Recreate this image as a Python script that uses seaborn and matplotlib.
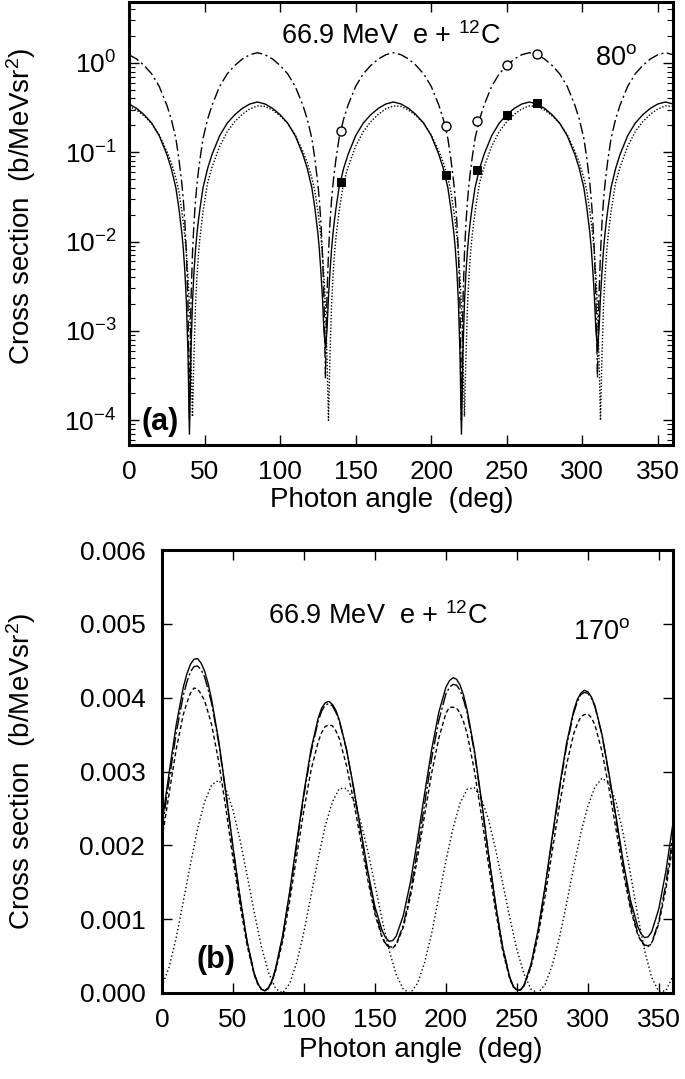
import numpy as np
import pandas as pd
import matplotlib
matplotlib.use("Agg")
import matplotlib.pyplot as plt
import seaborn as sns
from matplotlib.ticker import FixedLocator, FixedFormatter, NullLocator, NullFormatter, LogLocator

# ---------------- panel (a) data ----------------
angle_a = [0, 5, 10, 15, 20, 25, 28, 31, 33, 35, 36, 37, 38, 39, 40, 41, 42, 43, 44, 45, 46, 47, 49, 52, 55, 60, 65, 70, 75, 80, 85,
           90, 95, 100, 105, 110, 115, 118, 121, 123, 125, 126, 127, 128, 129, 130, 131, 132, 133, 134, 135, 136, 137, 139, 142, 145, 150, 155, 160, 165, 170, 175,
           180, 185, 190, 195, 200, 205, 208, 211, 213, 215, 216, 217, 218, 219, 220, 221, 222, 223, 224, 225, 226, 227, 229, 232, 235, 240, 245, 250, 255, 260, 265,
           270, 275, 280, 285, 290, 295, 298, 301, 303, 305, 306, 307, 308, 309, 310, 311, 312, 313, 314, 315, 316, 317, 319, 322, 325, 330, 335, 340, 345, 350, 355,
           360]

solid_a = [0.347, 0.310, 0.263, 0.212, 0.153, 0.0949, 0.0657, 0.0402, 0.0237, 0.0124, 0.00803, 0.00456, 0.00208, 5.8e-4, 7e-5, 5.8e-4, 0.00208, 0.00456, 0.00803, 0.0124, 0.0175, 0.0237, 0.0402, 0.0657, 0.0949, 0.153, 0.212, 0.263, 0.310, 0.347, 0.365,
           0.347, 0.310, 0.263, 0.212, 0.153, 0.0949, 0.0657, 0.0402, 0.0237, 0.0124, 0.00803, 0.00456, 0.0024, 1.0e-3, 6.5e-4, 1.0e-3, 0.0024, 0.00456, 0.00803, 0.0124, 0.0175, 0.0237, 0.0402, 0.0657, 0.0949, 0.153, 0.212, 0.263, 0.310, 0.347, 0.365,
           0.347, 0.310, 0.263, 0.212, 0.153, 0.0949, 0.0657, 0.0402, 0.0237, 0.0124, 0.00803, 0.00456, 0.00208, 5.8e-4, 7e-5, 5.8e-4, 0.00208, 0.00456, 0.00803, 0.0124, 0.0175, 0.0237, 0.0402, 0.0657, 0.0949, 0.153, 0.212, 0.263, 0.310, 0.347, 0.365,
           0.347, 0.310, 0.263, 0.212, 0.153, 0.0949, 0.0657, 0.0402, 0.0237, 0.0124, 0.00803, 0.00456, 0.0024, 1.0e-3, 6.5e-4, 1.0e-3, 0.0024, 0.00456, 0.00803, 0.0124, 0.0175, 0.0237, 0.0402, 0.0657, 0.0949, 0.153, 0.212, 0.263, 0.310, 0.347, 0.365,
           0.347]

dotted_a = [0.326, 0.296, 0.256, 0.210, 0.157, 0.103, 0.0766, 0.0516, 0.0366, 0.0216, 0.0160, 0.0113, 0.00733, 0.00416, 0.0019, 5.3e-4, 1.1e-4, 5.3e-4, 0.0019, 0.00416, 0.00733, 0.0113, 0.0216, 0.0456, 0.0683, 0.1166, 0.170, 0.220, 0.266, 0.306, 0.330,
            0.326, 0.296, 0.256, 0.210, 0.157, 0.103, 0.0766, 0.0516, 0.0366, 0.0216, 0.0160, 0.0113, 0.00733, 0.00416, 0.0019, 5.3e-4, 1.0e-4, 5.3e-4, 0.0019, 0.00416, 0.00733, 0.0113, 0.0216, 0.0456, 0.0683, 0.1166, 0.170, 0.220, 0.266, 0.306, 0.330,
            0.326, 0.296, 0.256, 0.210, 0.157, 0.103, 0.0766, 0.0516, 0.0366, 0.0216, 0.0160, 0.0113, 0.00733, 0.00416, 0.0019, 5.3e-4, 1.1e-4, 5.3e-4, 0.0019, 0.00416, 0.00733, 0.0113, 0.0216, 0.0456, 0.0683, 0.1166, 0.170, 0.220, 0.266, 0.306, 0.330,
            0.326, 0.296, 0.256, 0.210, 0.157, 0.103, 0.0766, 0.0516, 0.0366, 0.0216, 0.0160, 0.0113, 0.00733, 0.00416, 0.0019, 5.3e-4, 1.0e-4, 5.3e-4, 0.0019, 0.00416, 0.00733, 0.0113, 0.0216, 0.0456, 0.0683, 0.1166, 0.170, 0.220, 0.266, 0.306, 0.330,
            0.326]

dashdot_a = [1.235, 1.105, 0.936, 0.754, 0.546, 0.338, 0.234, 0.143, 0.0845, 0.0442, 0.0286, 0.01625, 0.0074, 0.0021, 1.0e-4, 0.0021, 0.0074, 0.01625, 0.0286, 0.0442, 0.0624, 0.0845, 0.143, 0.234, 0.338, 0.546, 0.754, 0.936, 1.105, 1.235, 1.30,
             1.235, 1.105, 0.936, 0.754, 0.546, 0.338, 0.234, 0.143, 0.0845, 0.0442, 0.0286, 0.01625, 0.0074, 0.0024, 3.0e-4, 0.0024, 0.0074, 0.01625, 0.0286, 0.0442, 0.0624, 0.0845, 0.143, 0.234, 0.338, 0.546, 0.754, 0.936, 1.105, 1.235, 1.30,
             1.235, 1.105, 0.936, 0.754, 0.546, 0.338, 0.234, 0.143, 0.0845, 0.0442, 0.0286, 0.01625, 0.0074, 0.0021, 1.0e-4, 0.0021, 0.0074, 0.01625, 0.0286, 0.0442, 0.0624, 0.0845, 0.143, 0.234, 0.338, 0.546, 0.754, 0.936, 1.105, 1.235, 1.30,
             1.235, 1.105, 0.936, 0.754, 0.546, 0.338, 0.234, 0.143, 0.0845, 0.0442, 0.0286, 0.01625, 0.0074, 0.0024, 3.0e-4, 0.0024, 0.0074, 0.01625, 0.0286, 0.0442, 0.0624, 0.0845, 0.143, 0.234, 0.338, 0.546, 0.754, 0.936, 1.105, 1.235, 1.30,
             1.235]

circle_x = [140, 210, 230, 250, 270]
circle_y = [0.172, 0.196, 0.224, 0.955, 1.26]
square_x = [140, 210, 230, 250, 270]
square_y = [0.046, 0.055, 0.063, 0.262, 0.353]

# ---------------- panel (b) data ----------------
angle_b = [0, 5, 10, 15, 17.5, 20, 22.5, 25, 27.5, 30, 32.5, 35, 40, 45, 50, 55, 60, 65, 67.5, 70, 72.5, 75, 77.5, 80,
           85, 90, 95, 100, 105, 110, 112.5, 115, 117.5, 120, 122.5, 125, 130, 135, 140, 145, 150, 155, 157.5, 160, 162.5, 165,
           170, 175, 180, 185, 190, 195, 200, 202.5, 205, 207.5, 210, 212.5, 215, 220, 225, 230, 235, 240, 245, 247.5, 250, 252.5, 255,
           260, 265, 270, 275, 280, 285, 290, 292.5, 295, 297.5, 300, 302.5, 305, 310, 315, 320, 325, 330, 335, 337.5, 340, 342.5, 345,
           350, 355, 360]

solid_b = [0.00230, 0.00298, 0.00363, 0.00414, 0.00432, 0.00445, 0.00452, 0.00453, 0.00447, 0.00436, 0.00419, 0.00397, 0.00341, 0.00272, 0.00198, 0.00129, 0.00069, 0.00026, 0.00013, 0.00005, 0.00003, 0.00007, 0.00017, 0.00033,
           0.00078, 0.00138, 0.00206, 0.00272, 0.00330, 0.00372, 0.00386, 0.00393, 0.00395, 0.00391, 0.00383, 0.00369, 0.00330, 0.00278, 0.00221, 0.00165, 0.00117, 0.00085, 0.00075, 0.00070, 0.00071, 0.00077,
           0.00105, 0.00150, 0.00208, 0.00270, 0.00330, 0.00380, 0.00414, 0.00423, 0.00427, 0.00425, 0.00417, 0.00403, 0.00383, 0.00330, 0.00262, 0.00189, 0.00120, 0.00062, 0.00021, 0.00009, 0.00004, 0.00004, 0.00010,
           0.00039, 0.00086, 0.00146, 0.00213, 0.00279, 0.00338, 0.00382, 0.00397, 0.00406, 0.00410, 0.00408, 0.00401, 0.00389, 0.00350, 0.00296, 0.00237, 0.00177, 0.00126, 0.00091, 0.00080, 0.00075, 0.00076, 0.00083,
           0.00114, 0.00165, 0.00230]

longdash_b = [0.00222, 0.00288, 0.00352, 0.00403, 0.00421, 0.00435, 0.00442, 0.00443, 0.00438, 0.00428, 0.00411, 0.00392, 0.00338, 0.00270, 0.00197, 0.00129, 0.00069, 0.00026, 0.00013, 0.00005, 0.00003, 0.00007, 0.00016, 0.00032,
              0.00076, 0.00135, 0.00202, 0.00268, 0.00326, 0.00368, 0.00382, 0.00390, 0.00392, 0.00389, 0.00380, 0.00368, 0.00329, 0.00277, 0.00219, 0.00161, 0.00111, 0.00077, 0.00067, 0.00063, 0.00062, 0.00066,
              0.00092, 0.00136, 0.00194, 0.00256, 0.00318, 0.00369, 0.00405, 0.00414, 0.00418, 0.00417, 0.00410, 0.00397, 0.00379, 0.00327, 0.00260, 0.00188, 0.00120, 0.00062, 0.00021, 0.00009, 0.00004, 0.00004, 0.00010,
              0.00038, 0.00084, 0.00143, 0.00209, 0.00275, 0.00334, 0.00379, 0.00394, 0.00404, 0.00407, 0.00406, 0.00399, 0.00388, 0.00349, 0.00294, 0.00234, 0.00172, 0.00119, 0.00082, 0.00071, 0.00065, 0.00064, 0.00068,
              0.00097, 0.00148, 0.00214]

shortdash_b = [0.00209, 0.00270, 0.00330, 0.00377, 0.00393, 0.00406, 0.00413, 0.00412, 0.00405, 0.00396, 0.00380, 0.00363, 0.00313, 0.00250, 0.00182, 0.00119, 0.00064, 0.00024, 0.00012, 0.00005, 0.00003, 0.00006, 0.00015, 0.00030,
               0.00070, 0.00125, 0.00187, 0.00248, 0.00302, 0.00340, 0.00353, 0.00361, 0.00363, 0.00362, 0.00355, 0.00344, 0.00308, 0.00260, 0.00207, 0.00153, 0.00107, 0.00075, 0.00066, 0.00062, 0.00061, 0.00065,
               0.00089, 0.00130, 0.00183, 0.00241, 0.00298, 0.00345, 0.00379, 0.00387, 0.00387, 0.00386, 0.00379, 0.00367, 0.00351, 0.00302, 0.00241, 0.00174, 0.00111, 0.00057, 0.00019, 0.00008, 0.00004, 0.00004, 0.00009,
               0.00035, 0.00078, 0.00132, 0.00193, 0.00254, 0.00309, 0.00351, 0.00364, 0.00374, 0.00377, 0.00378, 0.00373, 0.00363, 0.00327, 0.00276, 0.00220, 0.00163, 0.00114, 0.00080, 0.00070, 0.00064, 0.00063, 0.00067,
               0.00094, 0.00141, 0.00202]

angle_b_dotted = list(range(0, 361, 5))
dotted_b = [0.00009, 0.00035, 0.00075, 0.00124, 0.00174, 0.00222, 0.00259, 0.00282, 0.00288, 0.00276, 0.00248, 0.00207, 0.00159, 0.00109, 0.00063,
            0.00028, 0.00006, 0.00000, 0.00013, 0.00042, 0.00083, 0.00132, 0.00182, 0.00226, 0.00259, 0.00277, 0.00277, 0.00261, 0.00232, 0.00192,
            0.00147, 0.00100, 0.00058, 0.00025, 0.00005, 0.00000, 0.00013, 0.00041, 0.00081, 0.00130, 0.00179, 0.00223, 0.00257, 0.00276, 0.00278,
            0.00263, 0.00235, 0.00195, 0.00149, 0.00102, 0.00059, 0.00026, 0.00005, 0.00000, 0.00012, 0.00038, 0.00075, 0.00121, 0.00170, 0.00216,
            0.00253, 0.00279, 0.00291, 0.00284, 0.00258, 0.00215, 0.00162, 0.00107, 0.00057, 0.00021, 0.00002, 0.00003, 0.00023]

x_ticks = [0, 50, 100, 150, 200, 250, 300, 350]
x_tick_labels = ["0", "50", "100", "150", "200", "250", "300", "350"]
ya_ticks = [1e-4, 1e-3, 1e-2, 1e-1, 1e0]
ya_tick_labels = ["$10^{-4}$", "$10^{-3}$", "$10^{-2}$", "$10^{-1}$", "$10^{0}$"]
yb_ticks = [0.000, 0.001, 0.002, 0.003, 0.004, 0.005, 0.006]
yb_tick_labels = ["0.000", "0.001", "0.002", "0.003", "0.004", "0.005", "0.006"]

# ---------------- style ----------------
sns.set_style("ticks")
plt.rcParams["font.family"] = ["Liberation Sans", "DejaVu Sans"]
plt.rcParams["mathtext.fontset"] = "custom"
plt.rcParams["mathtext.rm"] = "Liberation Sans"
plt.rcParams["mathtext.it"] = "Liberation Sans:italic"
plt.rcParams["mathtext.bf"] = "Liberation Sans:bold"
plt.rcParams["mathtext.default"] = "regular"
for key in ["text.color", "axes.labelcolor", "xtick.color", "ytick.color", "axes.edgecolor"]:
    plt.rcParams[key] = "black"

TICK_FS = 19
LABEL_FS = 20
ANN_FS = 19.5
PANEL_FS = 22
LW = 1.0

fig = plt.figure(figsize=(6.85, 10.79), dpi=100)
ax1 = fig.add_axes([129 / 685, 1 - 445 / 1079, 544 / 685, 443 / 1079])
ax2 = fig.add_axes([162 / 685, 1 - 993 / 1079, 511 / 685, 443 / 1079])

dfa = pd.DataFrame({"angle": angle_a, "solid": solid_a, "dotted": dotted_a, "dashdot": dashdot_a})
dfb = pd.DataFrame({"angle": angle_b, "solid": solid_b, "longdash": longdash_b, "shortdash": shortdash_b})
dfb_dot = pd.DataFrame({"angle": angle_b_dotted, "dotted": dotted_b})

# panel (a)
sns.lineplot(data=dfa, x="angle", y="solid", ax=ax1, color="k", lw=LW, linestyle="-")
sns.lineplot(data=dfa, x="angle", y="dotted", ax=ax1, color="k", lw=LW, linestyle=(0, (1, 1.3)))
sns.lineplot(data=dfa, x="angle", y="dashdot", ax=ax1, color="k", lw=LW, linestyle=(0, (8, 2.5, 1.5, 2.5)))
sns.lineplot(x=circle_x, y=circle_y, ax=ax1, color="k", linestyle="none", marker="o",
             markersize=6.5, markerfacecolor="white", markeredgecolor="k", markeredgewidth=1.0)
sns.lineplot(x=square_x, y=square_y, ax=ax1, color="k", linestyle="none", marker="s",
             markersize=6, markerfacecolor="k", markeredgecolor="k")
ax1.set_yscale("log")
ax1.set_xlim(0, 360)
ax1.set_ylim(5.3e-5, 4.8)

# panel (b)
sns.lineplot(data=dfb, x="angle", y="solid", ax=ax2, color="k", lw=LW, linestyle="-")
sns.lineplot(data=dfb, x="angle", y="longdash", ax=ax2, color="k", lw=LW, linestyle=(0, (9, 2, 1.5, 2)))
sns.lineplot(data=dfb, x="angle", y="shortdash", ax=ax2, color="k", lw=LW, linestyle=(0, (3, 2)))
sns.lineplot(data=dfb_dot, x="angle", y="dotted", ax=ax2, color="k", lw=LW, linestyle=(0, (1, 1.8)))
ax2.set_xlim(0, 360)
ax2.set_ylim(0, 0.006)

for ax in (ax1, ax2):
    for sp in ax.spines.values():
        sp.set_linewidth(2.2)
        sp.set_visible(True)
        sp.set_color("black")
    ax.xaxis.set_major_locator(FixedLocator(x_ticks))
    ax.xaxis.set_major_formatter(FixedFormatter(x_tick_labels))
    ax.xaxis.set_minor_locator(NullLocator())
    ax.tick_params(which="major", direction="in", length=7, width=1.0, top=True, right=True,
                   labelsize=TICK_FS, color="k", labelcolor="k")
    ax.tick_params(which="minor", direction="in", length=4, width=0.8, top=False, right=True, left=True, color="k")
    ax.tick_params(axis="x", pad=11)
    ax.set_xlabel("Photon angle  (deg)", fontsize=LABEL_FS, color="k")
    ax.set_ylabel("Cross section  (b/MeVsr$^2$)", fontsize=LABEL_FS, color="k")
    ax.grid(False)

ax1.yaxis.set_major_locator(FixedLocator(ya_ticks))
ax1.yaxis.set_major_formatter(FixedFormatter(ya_tick_labels))
ax1.yaxis.set_minor_locator(LogLocator(base=10, subs=np.arange(2, 10), numticks=20))
ax1.yaxis.set_minor_formatter(NullFormatter())
ax1.tick_params(axis="y", pad=9)

ax2.yaxis.set_major_locator(FixedLocator(yb_ticks))
ax2.yaxis.set_major_formatter(FixedFormatter(yb_tick_labels))
ax2.yaxis.set_minor_locator(NullLocator())
ax2.tick_params(axis="y", pad=12)

ax1.xaxis.set_label_coords(0.483, -0.095)
ax2.xaxis.set_label_coords(0.507, -0.099)
ax1.yaxis.set_label_coords(-0.167, 0.54)
ax2.yaxis.set_label_coords(-0.243, 0.50)

# annotations
ax1.text(0.481, 0.905, "66.9 MeV  e + $^{12}$C", transform=ax1.transAxes, ha="center", va="baseline", fontsize=ANN_FS)
ax1.text(0.857, 0.857, "80$^{o}$", transform=ax1.transAxes, ha="left", va="baseline", fontsize=ANN_FS)
ax1.text(0.023, 0.034, "(a)", transform=ax1.transAxes, ha="left", va="baseline", fontsize=PANEL_FS, fontweight="bold")

ax2.text(0.422, 0.834, "66.9 MeV  e + $^{12}$C", transform=ax2.transAxes, ha="center", va="baseline", fontsize=ANN_FS)
ax2.text(0.804, 0.799, "170$^{o}$", transform=ax2.transAxes, ha="left", va="baseline", fontsize=ANN_FS)
ax2.text(0.068, 0.056, "(b)", transform=ax2.transAxes, ha="left", va="baseline", fontsize=PANEL_FS, fontweight="bold")

fig.savefig("out.png", dpi=100)
